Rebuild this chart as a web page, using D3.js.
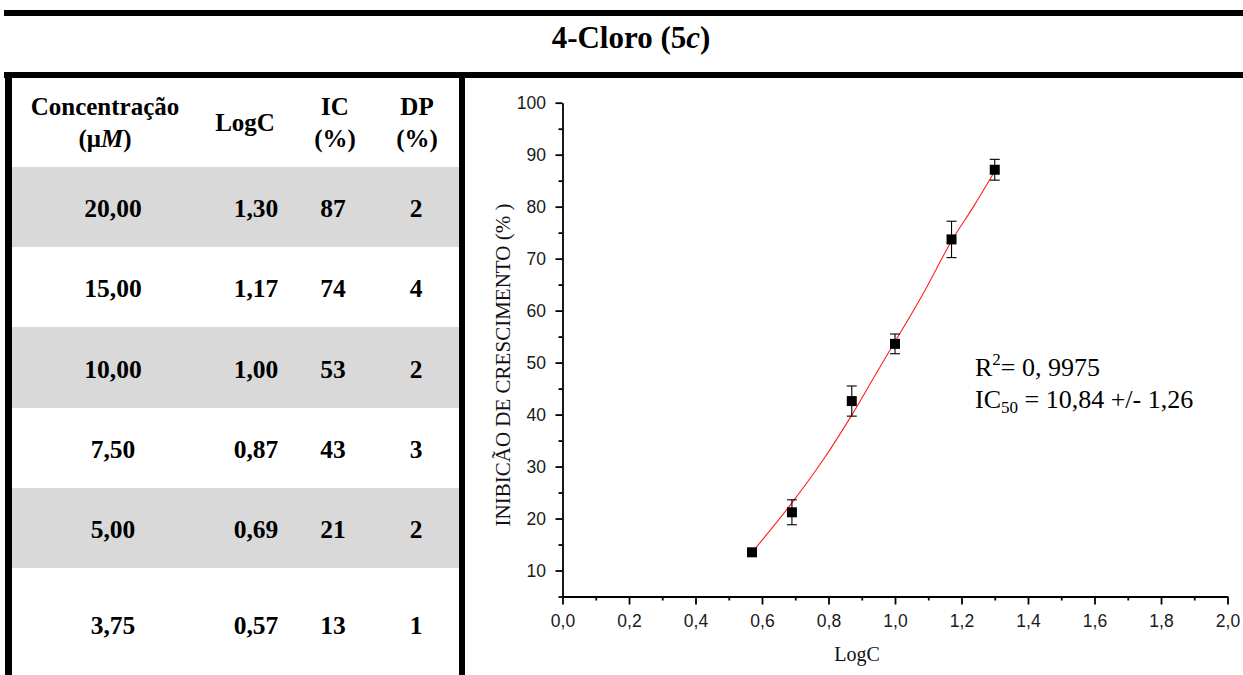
<!DOCTYPE html>
<html>
<head>
<meta charset="utf-8">
<script src="https://cdn.jsdelivr.net/npm/d3@7"></script>
<style>
  html, body { margin: 0; padding: 0; background: #fff; }
  svg { display: block; }
</style>
</head>
<body>
<svg id="chart" width="1243" height="675"></svg>
<script>
// ---- Data ----
const title = "4-Cloro (5";
const titleItalic = "c";
const tableHeaders = [["Concentração", "(μM)"], ["LogC"], ["IC", "(%)"], ["DP", "(%)"]];
const concentrations = ["20,00", "15,00", "10,00", "7,50", "5,00", "3,75"];
const logC = [1.30, 1.17, 1.00, 0.87, 0.69, 0.57];
const icTable = [87, 74, 53, 43, 21, 13];
const dpTable = [2, 4, 2, 3, 2, 1];

// values as plotted in the graph
const icPlot = [87.1, 73.7, 53.6, 42.6, 21.2, 13.5];
const errPlot = [2.0, 3.5, 1.9, 2.9, 2.4, 0.6];

// fitted curve, points
const fitX = [0.57, 0.633, 0.69, 0.784, 0.87, 0.935, 1.00, 1.085, 1.17, 1.236, 1.30];
const fitY = [13.5, 18.4, 23.0, 31.3, 39.9, 47.0, 54.0, 63.3, 73.4, 80.0, 86.8];

const xTicks = [0, 0.2, 0.4, 0.6, 0.8, 1.0, 1.2, 1.4, 1.6, 1.8, 2.0];
const xMinor = [0.1, 0.3, 0.5, 0.7, 0.9, 1.1, 1.3, 1.5, 1.7, 1.9];
const yTicks = [10, 20, 30, 40, 50, 60, 70, 80, 90, 100];
const yMinor = [5, 15, 25, 35, 45, 55, 65, 75, 85, 95];

const xLabel = "LogC";
const yLabel = "INIBICÃO DE CRESCIMENTO (% )";

// ---- Drawing ----
const svg = d3.select("#chart");
const serif = "'Liberation Serif', 'Times New Roman', Times, serif";
const sans = "'Liberation Sans', Arial, Helvetica, sans-serif";
const fmt2 = v => v.toFixed(2).replace(".", ",");
const fmt1 = v => v.toFixed(1).replace(".", ",");

// top bars and borders
svg.append("rect").attr("x", 4).attr("y", 10).attr("width", 1239).attr("height", 6).attr("fill", "#000");
svg.append("text").attr("x", 631).attr("y", 48).attr("text-anchor", "middle")
  .attr("font-family", serif).attr("font-weight", "bold").attr("font-size", 31)
  .call(t => {
    t.append("tspan").text(title);
    t.append("tspan").attr("font-style", "italic").text(titleItalic);
    t.append("tspan").text(")");
  });
svg.append("rect").attr("x", 4).attr("y", 72).attr("width", 1239).attr("height", 6).attr("fill", "#000");

// table
const rowEdges = [167, 247, 327, 408, 488, 568, 680];
const colX = [113, 256, 333, 416];
const headX = [105, 245, 335, 417];

concentrations.forEach((c, i) => {
  if (i % 2 === 0) {
    svg.append("rect").attr("x", 12).attr("y", rowEdges[i]).attr("width", 447)
      .attr("height", rowEdges[i + 1] - rowEdges[i]).attr("fill", "#d9d9d9");
  }
  const yb = (rowEdges[i] + rowEdges[i + 1]) / 2 + 10;
  const vals = [c, fmt2(logC[i]), String(icTable[i]), String(dpTable[i])];
  vals.forEach((v, j) => {
    svg.append("text").attr("x", colX[j]).attr("y", yb).attr("text-anchor", "middle")
      .attr("font-family", serif).attr("font-weight", "bold").attr("font-size", 25.5)
      .attr("fill", "#000").text(v);
  });
});

// headers
tableHeaders.forEach((h, j) => {
  if (h.length === 1) {
    svg.append("text").attr("x", headX[j]).attr("y", 131).attr("text-anchor", "middle")
      .attr("font-family", serif).attr("font-weight", "bold").attr("font-size", 25).text(h[0]);
  } else {
    svg.append("text").attr("x", headX[j]).attr("y", 115).attr("text-anchor", "middle")
      .attr("font-family", serif).attr("font-weight", "bold").attr("font-size", 25).text(h[0]);
    const t2 = svg.append("text").attr("x", headX[j]).attr("y", 147).attr("text-anchor", "middle")
      .attr("font-family", serif).attr("font-weight", "bold").attr("font-size", 25);
    if (h[1] === "(μM)") {
      t2.append("tspan").text("(μ");
      t2.append("tspan").attr("font-style", "italic").text("M");
      t2.append("tspan").text(")");
    } else {
      t2.text(h[1]);
    }
  }
});

// vertical borders
svg.append("rect").attr("x", 5).attr("y", 72).attr("width", 7).attr("height", 603).attr("fill", "#000");
svg.append("rect").attr("x", 459).attr("y", 72).attr("width", 6).attr("height", 603).attr("fill", "#000");

// ---- chart ----
const x = d3.scaleLinear().domain([0, 2]).range([562.5, 1227.5]);
const y = d3.scaleLinear().domain([5, 100]).range([596.5, 102.7]);
const tickColor = "#1a1a1a";

const gx = svg.append("g").attr("transform", `translate(0,${y(5)})`);
gx.call(d3.axisBottom(x).tickValues(xTicks).tickSize(8).tickPadding(10.5).tickSizeOuter(0).tickFormat(fmt1));
gx.append("g").call(d3.axisBottom(x).tickValues(xMinor).tickSize(4).tickFormat("").tickSizeOuter(0))
  .select(".domain").remove();

const gy = svg.append("g").attr("transform", `translate(${x(0)},0)`);
gy.call(d3.axisLeft(y).tickValues(yTicks).tickSize(7).tickPadding(9.5).tickSizeOuter(0).tickFormat(d3.format("d")));
gy.append("g").call(d3.axisLeft(y).tickValues(yMinor).tickSize(4).tickFormat("").tickSizeOuter(0))
  .select(".domain").remove();

[gx, gy].forEach(g => {
  g.selectAll(".domain").attr("stroke", "#000").attr("stroke-width", 1.8);
  g.selectAll(".tick line").attr("stroke", "#000").attr("stroke-width", 1.8);
  g.selectAll(".tick text").attr("font-family", sans).attr("font-size", 17.5).attr("fill", tickColor);
});

// axis titles
svg.append("text").attr("x", 857).attr("y", 661).attr("text-anchor", "middle")
  .attr("font-family", serif).attr("font-size", 20).attr("fill", "#111").text(xLabel);
svg.append("text").attr("transform", "translate(510,365) rotate(-90)").attr("text-anchor", "middle")
  .attr("font-family", serif).attr("font-size", 21).attr("fill", "#111").text(yLabel);

// fit curve
const fitPts = fitX.map((v, i) => [v, fitY[i]]);
svg.append("path").datum(fitPts)
  .attr("d", d3.line().x(d => x(d[0])).y(d => y(d[1])).curve(d3.curveCatmullRom))
  .attr("fill", "none").attr("stroke", "#ff2020").attr("stroke-width", 1.1);

// error bars
const pts = logC.map((v, i) => ({ lx: v, ic: icPlot[i], e: errPlot[i] }));
const eb = svg.append("g").attr("stroke", "#000").attr("stroke-width", 1.1);
pts.forEach(p => {
  const cx = x(p.lx);
  eb.append("line").attr("x1", cx).attr("x2", cx).attr("y1", y(p.ic + p.e)).attr("y2", y(p.ic - p.e));
  eb.append("line").attr("x1", cx - 5).attr("x2", cx + 5).attr("y1", y(p.ic + p.e)).attr("y2", y(p.ic + p.e));
  eb.append("line").attr("x1", cx - 5).attr("x2", cx + 5).attr("y1", y(p.ic - p.e)).attr("y2", y(p.ic - p.e));
});

// markers
svg.append("g").selectAll("rect").data(pts).join("rect")
  .attr("x", d => x(d.lx) - 5).attr("y", d => y(d.ic) - 5)
  .attr("width", 10).attr("height", 10).attr("fill", "#000");

// annotation
const a1 = svg.append("text").attr("x", 975).attr("y", 376).attr("font-family", serif).attr("font-size", 26).attr("fill", "#000");
a1.append("tspan").text("R");
a1.append("tspan").attr("font-size", 17).attr("dy", -11).text("2");
a1.append("tspan").attr("dy", 11).text("= 0, 9975");
const a2 = svg.append("text").attr("x", 975).attr("y", 408).attr("font-family", serif).attr("font-size", 26).attr("fill", "#000");
a2.append("tspan").text("IC");
a2.append("tspan").attr("font-size", 17).attr("dy", 5).text("50");
a2.append("tspan").attr("dy", -5).text(" = 10,84 +/- 1,26");
</script>
</body>
</html>
